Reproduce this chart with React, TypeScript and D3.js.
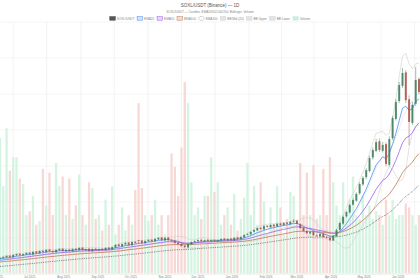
import React, { useMemo } from 'react';
import * as d3 from 'd3';

const W = 420;
const H = 280;
const START = new Date(2025, 5, 4);
const END = new Date(2026, 5, 20);
const STEP_DAYS = 3;

const opens = [
  15.5, 15.8, 16.0, 16.5, 16.0, 16.7, 17.2, 16.7, 17.0, 17.6,
  17.0, 18.0, 17.4, 18.3, 17.8, 18.7, 18.2, 17.8, 18.5, 19.0,
  18.1, 18.7, 18.1, 19.0, 18.5, 19.4, 18.5, 19.0, 18.1, 19.0,
  18.5, 19.0, 18.5, 19.4, 18.8, 19.5, 20.5, 19.9, 20.6, 21.2,
  20.3, 21.5, 22.0, 21.9, 21.0, 21.7, 22.2, 21.7, 22.4, 23.0,
  22.0, 23.0, 22.0, 21.9, 21.2, 20.8, 20.1, 19.5, 20.6, 21.5,
  21.7, 22.2, 21.7, 22.2, 21.7, 22.2, 21.7, 22.0, 22.6, 22.0,
  22.6, 22.0, 23.0, 22.4, 23.1, 24.0, 24.2, 25.1, 25.6, 26.5,
  26.0, 27.2, 26.7, 27.6, 27.0, 28.0, 27.4, 28.3, 27.8, 28.7,
  29.0, 27.8, 26.5, 25.3, 24.5, 25.1, 23.8, 23.5, 24.4, 23.1,
  22.9, 22.0, 23.5, 25.8, 28.0, 30.6, 32.0, 34.8, 36.2, 38.8,
  42.0, 44.6, 46.8, 51.6, 54.0, 57.4, 54.0, 56.4, 49.0, 58.5,
  65.4, 71.8, 77.2, 82.0, 72.4, 64.0, 70.8, 79.6,
];
const highs = [
  16.0, 16.3, 16.7, 16.7, 17.0, 17.3, 17.4, 17.3, 17.7, 17.8,
  18.1, 18.2, 18.4, 18.5, 18.8, 18.9, 18.5, 18.8, 19.2, 19.2,
  18.9, 18.9, 19.1, 19.2, 19.5, 19.6, 19.0, 19.2, 19.1, 19.2,
  19.1, 19.2, 19.5, 19.6, 19.8, 20.6, 20.8, 20.9, 21.4, 21.4,
  21.6, 21.7, 22.1, 22.1, 22.0, 22.4, 22.4, 22.7, 23.1, 23.2,
  23.1, 23.2, 22.3, 22.1, 21.4, 21.0, 20.3, 20.9, 21.6, 21.9,
  22.3, 22.4, 22.3, 22.4, 22.3, 22.4, 22.3, 22.7, 22.8, 22.7,
  22.8, 23.1, 23.3, 23.4, 24.1, 24.5, 25.3, 25.9, 26.6, 26.8,
  27.4, 27.5, 27.8, 27.9, 28.2, 28.3, 28.5, 28.6, 28.9, 29.6,
  29.4, 28.1, 26.7, 25.6, 25.3, 25.4, 24.1, 24.6, 24.7, 23.5,
  23.3, 23.9, 26.1, 28.6, 30.9, 32.6, 35.1, 37.0, 39.2, 42.8,
  45.0, 47.8, 52.2, 55.2, 58.3, 58.4, 57.2, 57.0, 59.2, 66.5,
  72.5, 78.6, 83.6, 82.8, 73.8, 71.5, 84.0, 80.2,
];
const lows = [
  15.3, 15.6, 15.8, 15.8, 15.8, 16.4, 16.5, 16.5, 16.8, 16.9,
  16.8, 17.3, 17.2, 17.7, 17.6, 18.0, 17.6, 17.6, 18.3, 18.0,
  17.9, 18.0, 17.9, 18.4, 18.3, 18.4, 18.3, 18.0, 17.9, 18.4,
  18.3, 18.4, 18.3, 18.7, 18.6, 19.3, 19.7, 19.7, 20.4, 20.2,
  20.1, 20.9, 20.8, 20.8, 20.8, 21.5, 21.5, 21.5, 22.2, 21.9,
  21.8, 21.9, 21.6, 20.9, 20.5, 19.8, 19.3, 19.3, 20.4, 21.2,
  21.5, 21.6, 21.5, 21.6, 21.5, 21.6, 21.5, 21.8, 21.9, 21.8,
  21.9, 21.8, 22.2, 22.2, 22.9, 23.8, 24.0, 24.9, 25.4, 25.8,
  25.8, 26.5, 26.5, 26.8, 26.8, 27.2, 27.2, 27.6, 27.6, 28.4,
  27.6, 26.1, 25.1, 24.3, 24.2, 23.6, 23.3, 23.2, 23.0, 22.6,
  21.8, 21.8, 23.2, 25.4, 27.6, 30.1, 31.6, 34.4, 35.8, 38.3,
  41.4, 43.8, 46.3, 50.8, 53.5, 53.6, 53.4, 48.5, 48.4, 57.8,
  64.8, 71.0, 76.5, 71.1, 56.0, 63.2, 70.0, 74.2,
];
const closes = [
  15.7, 16.1, 16.4, 16.1, 16.8, 17.1, 16.8, 17.1, 17.5, 17.1,
  17.9, 17.5, 18.2, 17.9, 18.6, 18.2, 17.9, 18.6, 18.9, 18.2,
  18.6, 18.2, 18.9, 18.6, 19.3, 18.6, 18.9, 18.2, 18.9, 18.6,
  18.9, 18.6, 19.3, 18.9, 19.6, 20.4, 20.0, 20.7, 21.1, 20.4,
  21.4, 21.1, 21.8, 21.1, 21.8, 22.1, 21.8, 22.5, 22.9, 22.1,
  22.9, 22.1, 21.8, 21.1, 20.7, 20.0, 19.6, 20.7, 21.4, 21.8,
  22.1, 21.8, 22.1, 21.8, 22.1, 21.8, 22.1, 22.5, 22.1, 22.5,
  22.1, 22.9, 22.5, 23.2, 23.9, 24.3, 25.0, 25.7, 26.4, 26.1,
  27.1, 26.8, 27.5, 27.1, 27.9, 27.5, 28.2, 27.9, 28.6, 28.9,
  27.9, 26.4, 25.4, 24.6, 25.0, 23.9, 23.6, 24.3, 23.2, 22.9,
  22.1, 23.6, 25.7, 28.2, 30.4, 32.1, 34.6, 36.4, 38.6, 42.1,
  44.3, 47.1, 51.4, 54.3, 57.1, 54.3, 56.1, 49.3, 58.2, 65.7,
  71.4, 77.5, 81.8, 72.1, 64.3, 70.4, 79.3, 75.0,
];
const volumes = [
  70, 45, 75, 53, 60, 60, 49, 46, 30, 32,
  40, 25, 27, 54, 35, 52, 30, 57, 45, 50,
  30, 49, 28, 35, 51, 30, 25, 47, 44, 28,
  30, 22, 38, 25, 45, 20, 25, 34, 22, 30,
  25, 43, 88, 44, 30, 27, 30, 38, 25, 30,
  20, 30, 62, 55, 40, 65, 99, 88, 47, 30,
  34, 28, 40, 40, 60, 42, 47, 25, 30, 34,
  25, 41, 22, 28, 39, 57, 30, 45, 25, 47,
  37, 20, 34, 25, 45, 34, 20, 28, 42, 40,
  25, 57, 30, 52, 30, 56, 28, 30, 54, 30,
  60, 47, 35, 30, 47, 30, 38, 50, 30, 28,
  40, 30, 35, 28, 32, 30, 25, 38, 30, 38,
  28, 30, 30, 36, 34, 30, 25, 30,
];

const emaPeriods = [20, 50, 100, 200];
const emaSeeds = [15.3, 14.8, 14.2, 12.6];
const emaNames = ['EMA20', 'EMA50', 'EMA100', 'EMA200'];
const emaColors = ['#4a8ff0', '#9a62f0', '#c07a55', '#555555'];
const bbPeriod = 20;

const monthLabels = [
  'Jun 2025', 'Jul 2025', 'Aug 2025', 'Sep 2025', 'Oct 2025', 'Nov 2025', 'Dec 2025',
  'Jan 2026', 'Feb 2026', 'Mar 2026', 'Apr 2026', 'May 2026', 'Jun 2026',
];
const legendLabels = ['SOXL/USDT', 'EMA20', 'EMA50', 'EMA100', 'EMA200', 'BB Mid (20)', 'BB Upper', 'BB Lower', 'Volume'];

const TITLE = 'SOXL/USDT (Binance) — 1D';
const SUBTITLE = 'SOXL/USDT — Candles, EMA20/50/100/200, Bollinger, Volume';

const FONT = '"Liberation Sans", Arial, sans-serif';
const UP = '#3e7f5c';
const DOWN = '#a9524a';

function measure(text: string, size: number): number {
  const c = document.createElement('canvas').getContext('2d');
  if (!c) return text.length * size * 0.6;
  c.font = `${size}px ${FONT}`;
  return c.measureText(text).width;
}

function ema(vals: number[], period: number, seed: number): number[] {
  const a = 2 / (period / STEP_DAYS + 1);
  let e = seed;
  return vals.map((v) => (e = e + a * (v - e)));
}

export default function App() {
  const PT = 22;
  const PB = 274;
  const dates = closes.map((_, i) => d3.timeDay.offset(START, i * STEP_DAYS));
  const x = d3.scaleTime().domain([START, END]).range([0, 419]);
  const y = d3.scaleLinear().domain([10, 100]).range([PB, PT]);
  const yv = d3.scaleLinear().domain([0, 100]).range([273, 80]);
  const gridRows = d3.scaleLinear().domain([0, 7]).range([PB, PT]);

  const emas = emaPeriods.map((p, k) => ema(closes, p, emaSeeds[k]));
  const w = Math.round(bbPeriod / STEP_DAYS);
  const bb = closes.map((_, i) => {
    const win = closes.slice(Math.max(0, i - w + 1), i + 1);
    const m = d3.mean(win) as number;
    const sd = Math.sqrt(d3.mean(win, (v) => (v - m) * (v - m)) as number);
    return { mid: m, up: m + 2 * sd, lo: m - 2 * sd };
  });

  const line = (vals: number[]) =>
    d3.line<number>().x((_, i) => x(dates[i])).y((v) => y(v))(vals) || '';

  const months = d3.timeMonth.range(new Date(2025, 5, 1), new Date(2026, 6, 2));
  const mids = months.slice(0, -1).map((m, i) => new Date((m.getTime() + months[i + 1].getTime()) / 2));

  const cw = 2;
  const vw = 2.3;

  // legend layout
  const lf = 3.1;
  const iconW = 5.5;
  const items = legendLabels.map((t) => ({ t, tw: measure(t, lf) }));
  const total = items.reduce((s, it) => s + iconW + 1.5 + it.tw, 0) + 2.8 * (items.length - 1);
  let lx = 210 - total / 2;
  const legendPos = items.map((it) => {
    const p = { ...it, x: lx };
    lx += iconW + 1.5 + it.tw + 2.8;
    return p;
  });
  const iconStyle = (i: number) => {
    if (i === 0) return { fill: '#555', stroke: '#444' };
    if (i >= 1 && i <= 3) return { fill: d3.color(emaColors[i - 1])!.copy({ opacity: 0.25 }).toString(), stroke: emaColors[i - 1] };
    if (i === 4) return { fill: '#fff', stroke: '#777' };
    if (i === 8) return { fill: '#cdeedd', stroke: '#cdeedd' };
    return { fill: '#e4e4e4', stroke: '#d4d4d4' };
  };

  return (
    <svg width={W} height={H} style={{ position: 'absolute', left: 0, top: 0, background: '#fff' }} fontFamily={FONT}>
      <defs>
        <clipPath id="plot">
          <rect x={0} y={PT} width={W} height={PB - PT} />
        </clipPath>
      </defs>
      <text x={210} y={6.6} textAnchor="middle" fontSize={4.5} fill="#555">{TITLE}</text>
      <text x={210} y={13.2} textAnchor="middle" fontSize={3.1} fill="#888">{SUBTITLE}</text>
      {legendPos.map((it, i) => {
        const st = iconStyle(i);
        return (
          <g key={it.t}>
            {i === 4 ? (
              <rect x={it.x} y={16.6} width={iconW} height={3.6} rx={1.8} fill="#fff" stroke="#666" strokeWidth={0.5} strokeDasharray="0.6,0.5" />
            ) : (
              <rect x={it.x} y={16.6} width={iconW} height={3.6} fill={st.fill} stroke={st.stroke} strokeWidth={0.5} />
            )}
            <text x={it.x + iconW + 1.5} y={19.5} fontSize={lf} fill="#888">{it.t}</text>
          </g>
        );
      })}
      <g>
        {gridRows.ticks(7).map((t) => (
          <line key={'h' + t} x1={0} x2={W} y1={gridRows(t)} y2={gridRows(t)} stroke="#efefef" strokeWidth={0.6} />
        ))}
        {mids.map((m, i) => (
          <line key={'v' + i} x1={x(m)} x2={x(m)} y1={PT} y2={PB} stroke="#ececec" strokeWidth={0.6} />
        ))}
      </g>
      <g clipPath="url(#plot)">
        {volumes.map((v, i) => (
          <rect key={'vol' + i} x={x(dates[i]) - vw / 2} y={yv(v)} width={vw} height={yv(0) - yv(v)}
            fill={closes[i] >= opens[i] ? '#d3f2df' : '#f8d6d3'} opacity={0.95} />
        ))}
        <path d={line(bb.map((b) => b.up))} fill="none" stroke="#cfcfcf" strokeWidth={0.6} />
        <path d={line(bb.map((b) => b.lo))} fill="none" stroke="#cfcfcf" strokeWidth={0.6} />
        <path d={line(bb.map((b) => b.mid))} fill="none" stroke="#c4c4c4" strokeWidth={0.5} strokeDasharray="1.5,1" />
        {emas.map((e, k) => (
          <path key={emaNames[k]} d={line(e)} fill="none" stroke={emaColors[k]}
            strokeWidth={k === 3 ? 0.8 : 0.8} strokeDasharray={k === 3 ? '0.8,1' : undefined} />
        ))}
        {closes.map((c, i) => {
          const o = opens[i];
          const col = c >= o ? UP : DOWN;
          const cx = x(dates[i]);
          const top = y(Math.max(o, c));
          const h = Math.max(0.6, Math.abs(y(o) - y(c)));
          return (
            <g key={'c' + i}>
              <line x1={cx} x2={cx} y1={y(highs[i])} y2={y(lows[i])} stroke={col} strokeWidth={0.5} />
              <rect x={cx - cw / 2} y={top} width={cw} height={h} fill={col} opacity={0.85} />
            </g>
          );
        })}
      </g>
      <line x1={0} x2={W} y1={PB} y2={PB} stroke="#e2e2e2" strokeWidth={0.6} />
      {months.map((m, i) => (
        <text key={'ml' + i} x={x(m)} y={278} textAnchor="middle" fontSize={3} fill="#888">{monthLabels[i]}</text>
      ))}
    </svg>
  );
}
